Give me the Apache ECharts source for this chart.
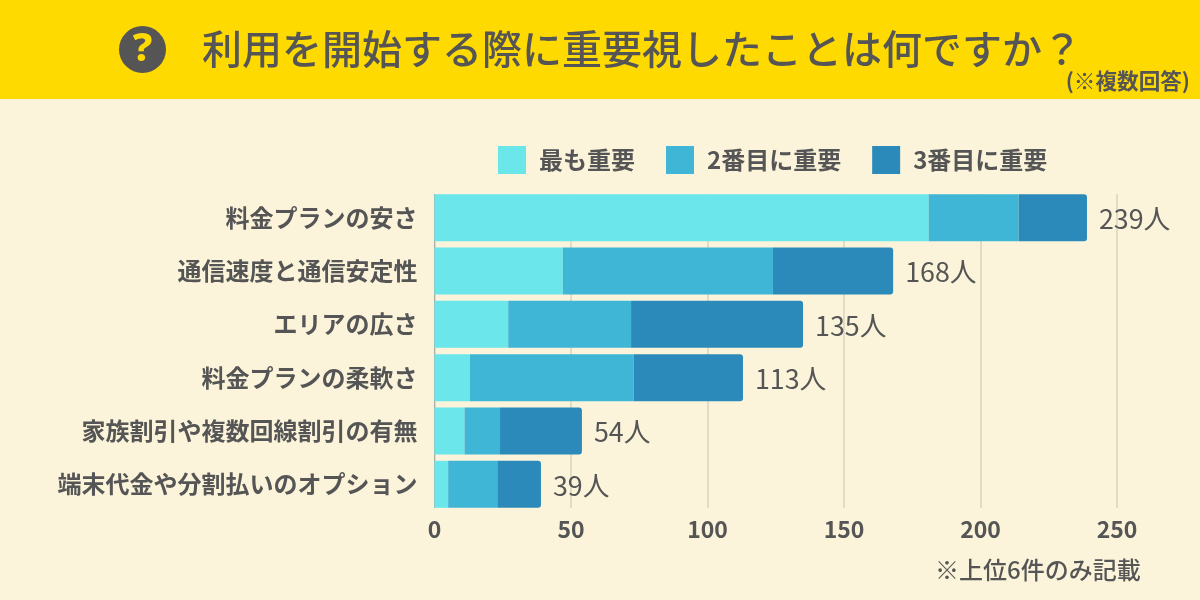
<!DOCTYPE html>
<html><head><meta charset="utf-8">
<style>html,body{margin:0;padding:0;background:#FBF4DB}#c{width:1200px;height:600px}</style>
<script src="https://cdn.jsdelivr.net/npm/echarts@6/dist/echarts.min.js"></script>
</head><body><div id="c"></div>
<script>
const categories = ['料金プランの安さ','通信速度と通信安定性','エリアの広さ','料金プランの柔軟さ','家族割引や複数回線割引の有無','端末代金や分割払いのオプション'];
const seriesNames = ['最も重要','2番目に重要','3番目に重要'];
const first = [181,47,27,13,11,5];
const second = [33,77,45,60,13,18];
const third = [25,44,63,40,30,16];
const totals = [239,168,135,113,54,39];
const ticks = {min:0,max:250,interval:50};
const F = '"Noto Sans CJK JP","Noto Sans",sans-serif';
const INK = '#555555';
const BG = '#FBF4DB';
const colors = ['#6BE7EB','#40B6D6','#2C8ABA'];
const chart = echarts.init(document.getElementById('c'),null,{renderer:'canvas'});
const base = {type:'bar',stack:'t',barWidth:47,silent:true};
chart.setOption({
  animation:false,
  backgroundColor:BG,
  textStyle:{fontFamily:F},
  title:[
    {text:'利用を開始する際に重要視したことは何ですか？',left:202,top:29,padding:0,z:10,
     textStyle:{fontFamily:F,fontSize:40,fontWeight:500,color:INK}},
    {text:'(※複数回答)',right:10,top:70,padding:0,z:10,
     textStyle:{fontFamily:F,fontSize:21.6,fontWeight:700,color:INK}},
    {text:'※上位6件のみ記載',left:935,top:558,padding:0,z:10,
     textStyle:{fontFamily:F,fontSize:24,fontWeight:500,color:INK}}
  ],
  legend:{
    data:seriesNames,left:498,top:146,padding:0,itemWidth:28,itemHeight:28,itemGap:31,
    icon:'rect',selectedMode:false,
    textStyle:{fontFamily:F,fontSize:24,fontWeight:700,color:INK,padding:[0,0,0,8]}
  },
  grid:{left:434.5,width:682.5,top:191,height:320,containLabel:false},
  xAxis:{
    type:'value',min:ticks.min,max:ticks.max,interval:ticks.interval,
    axisLine:{show:false},axisTick:{show:false},
    splitLine:{show:true,lineStyle:{color:'#D9D4BE',width:1.5}},
    axisLabel:{fontFamily:F,fontSize:23,fontWeight:700,color:INK,margin:7}
  },
  yAxis:{
    type:'category',inverse:true,data:categories,
    axisLine:{show:true,lineStyle:{color:'#A9AFA8',width:1}},axisTick:{show:false},
    axisLabel:{fontFamily:F,fontSize:24,fontWeight:700,color:INK,margin:17}
  },
  series:[
    {...base,name:seriesNames[0],data:first,itemStyle:{color:colors[0]}},
    {...base,name:seriesNames[1],data:second,itemStyle:{color:colors[1]}},
    {...base,name:seriesNames[2],data:third,itemStyle:{color:colors[2],borderRadius:[0,3,3,0]},
     label:{show:true,position:'right',distance:12,offset:[0,1],fontFamily:F,fontSize:26.8,fontWeight:400,color:INK,
       formatter:p=>totals[p.dataIndex]+'人'}}
  ],
  graphic:[
    {type:'rect',z:-1,silent:true,shape:{x:0,y:0,width:1200,height:99},style:{fill:'#FFDA00'}},
    {type:'rect',z:1,silent:true,shape:{x:430,y:508,width:770,height:4},style:{fill:BG}},
    {type:'rect',z:1,silent:true,shape:{x:430,y:189,width:770,height:5},style:{fill:BG}},
    {type:'circle',z:5,silent:true,shape:{cx:142.5,cy:49.5,r:23.5},style:{fill:INK}},
    {type:'text',z:6,silent:true,style:{x:142.5,y:50,text:'?',fill:'#FFDA00',font:'800 40px "Noto Sans",sans-serif',textAlign:'center',textVerticalAlign:'middle'}}
  ]
});
</script></body></html>
